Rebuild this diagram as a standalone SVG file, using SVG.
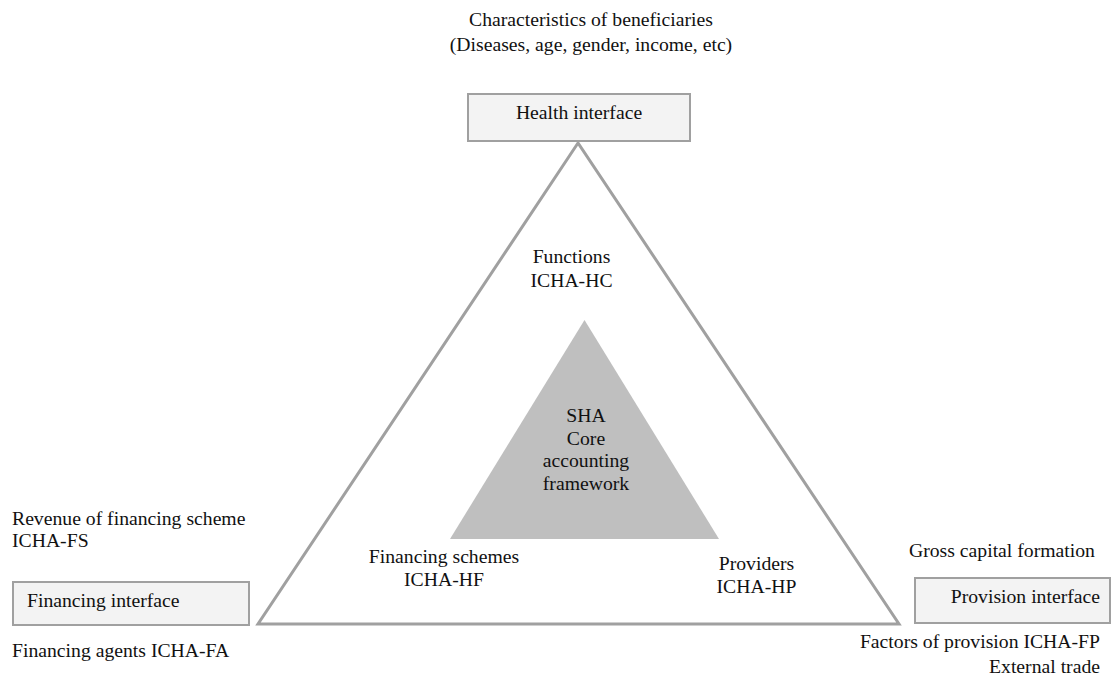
<svg xmlns="http://www.w3.org/2000/svg" width="1112" height="684" viewBox="0 0 1112 684">
  <style>
    text { font-family: "Liberation Serif", "Times New Roman", Times, serif; font-size: 19.7px; fill: #111; }
    .mid { text-anchor: middle; }
    .end { text-anchor: end; }
    .box { fill: #f3f3f3; stroke: #a0a0a0; stroke-width: 2; }
    .frame { fill: #ffffff; stroke: #a0a0a0; stroke-width: 3; stroke-linejoin: miter; }
    .core { fill: #bfbfbf; stroke: none; }
  </style>
  <rect width="1112" height="684" fill="#ffffff"/>

  <!-- outer accounting triangle -->
  <g id="connectors">
    <polygon class="frame" points="578,143 258,624 899,624"/>
  </g>

  <!-- core framework -->
  <g id="core">
    <polygon class="core" points="584.5,320 450,539 719,539"/>
    <text class="mid" x="586" y="422">SHA</text>
    <text class="mid" x="586" y="444.5">Core</text>
    <text class="mid" x="586" y="467">accounting</text>
    <text class="mid" x="586" y="489.5">framework</text>
  </g>

  <g id="functions">
    <text class="mid" x="571.5" y="263">Functions</text>
    <text class="mid" x="571.5" y="287">ICHA-HC</text>
  </g>

  <g id="financing-schemes">
    <text class="mid" x="444" y="563">Financing schemes</text>
    <text class="mid" x="444" y="586">ICHA-HF</text>
  </g>

  <g id="providers">
    <text class="mid" x="756.5" y="570">Providers</text>
    <text class="mid" x="756.5" y="593">ICHA-HP</text>
  </g>

  <!-- health interface -->
  <g id="health-interface">
    <text class="mid" x="591" y="26">Characteristics of beneficiaries</text>
    <text class="mid" x="591" y="51">(Diseases, age, gender, income, etc)</text>
    <rect class="box" x="468" y="94" width="222" height="47"/>
    <text class="mid" x="579" y="119">Health interface</text>
  </g>

  <!-- financing interface -->
  <g id="financing-interface">
    <text x="12" y="525">Revenue of financing scheme</text>
    <text x="12" y="547">ICHA-FS</text>
    <rect class="box" x="13" y="582" width="236" height="43"/>
    <text x="27" y="607">Financing interface</text>
    <text x="12" y="657">Financing agents ICHA-FA</text>
  </g>

  <!-- provision interface -->
  <g id="provision-interface">
    <text x="909" y="557">Gross capital formation</text>
    <rect class="box" x="915" y="578" width="195" height="45"/>
    <text class="end" x="1100" y="603">Provision interface</text>
    <text class="end" x="1100" y="648">Factors of provision ICHA-FP</text>
    <text class="end" x="1100" y="673">External trade</text>
  </g>
</svg>
